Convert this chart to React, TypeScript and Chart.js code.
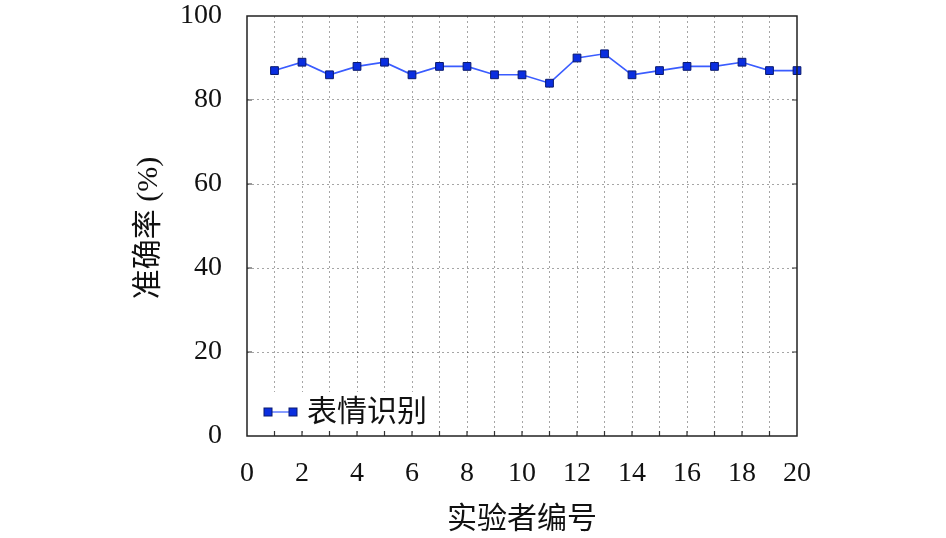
import { useEffect, useRef } from "react";
import { Chart, registerables, Plugin } from "chart.js";

Chart.register(...registerables);

const subjects = [1, 2, 3, 4, 5, 6, 7, 8, 9, 10, 11, 12, 13, 14, 15, 16, 17, 18, 19, 20];
const accuracy = [87, 89, 86, 88, 89, 86, 88, 88, 86, 86, 84, 90, 91, 86, 87, 88, 88, 89, 87, 87];
const seriesName = "表情识别";
const xTitle = "实验者编号";
const yTitle = "准确率 (%)";

const LATIN = "'Liberation Serif', 'Times New Roman', serif";
const CJK = "'Liberation Serif', 'Noto Sans CJK SC', serif";
const LINE_COLOR = "#3a5cff";
const MARK_FILL = "#0a2ee0";
const MARK_EDGE = "#0a1a6e";

// frame, inward ticks, legend box and axis titles
const decorPlugin: Plugin = {
    id: "decor",
    afterDatasetsDraw(chart) {
        const { ctx, chartArea: a, scales } = chart;
        const xs = scales.x;
        const ys = scales.y;
        ctx.save();

        // legend with white box
        ctx.fillStyle = "#fff";
        ctx.fillRect(a.left + 1, 392, 188, 38);
        ctx.strokeStyle = LINE_COLOR;
        ctx.lineWidth = 1.2;
        ctx.beginPath();
        ctx.moveTo(268, 412);
        ctx.lineTo(293, 412);
        ctx.stroke();
        for (const mx of [268, 293]) {
            ctx.fillStyle = MARK_FILL;
            ctx.strokeStyle = MARK_EDGE;
            ctx.lineWidth = 1;
            ctx.fillRect(mx - 4, 408, 8, 8);
            ctx.strokeRect(mx - 4, 408, 8, 8);
        }
        ctx.fillStyle = "#111";
        ctx.font = `30px ${CJK}`;
        ctx.textAlign = "left";
        ctx.textBaseline = "middle";
        ctx.fillText(seriesName, 307, 413);

        // inward ticks
        ctx.strokeStyle = "#333";
        ctx.lineWidth = 1.2;
        ctx.beginPath();
        for (let v = 1; v < 20; v++) {
            const px = xs.getPixelForValue(v);
            ctx.moveTo(px, a.bottom);
            ctx.lineTo(px, a.bottom - 5);
        }
        for (let v = 20; v < 100; v += 20) {
            const py = ys.getPixelForValue(v);
            ctx.moveTo(a.left, py);
            ctx.lineTo(a.left + 5, py);
            ctx.moveTo(a.right, py);
            ctx.lineTo(a.right - 5, py);
        }
        ctx.stroke();

        // frame
        ctx.strokeStyle = "#222";
        ctx.lineWidth = 1.5;
        ctx.strokeRect(a.left, a.top, a.right - a.left, a.bottom - a.top);

        // axis titles
        ctx.fillStyle = "#111";
        ctx.font = `30px ${CJK}`;
        ctx.textAlign = "center";
        ctx.textBaseline = "middle";
        ctx.fillText(xTitle, (a.left + a.right) / 2, 520);
        ctx.translate(149, (a.top + a.bottom) / 2 + 2);
        ctx.rotate(-Math.PI / 2);
        ctx.fillText(yTitle, 0, 0);
        ctx.restore();
    },
};

export default function App() {
    const canvasRef = useRef<HTMLCanvasElement>(null);

    useEffect(() => {
        if (!canvasRef.current) return;
        const chart = new Chart(canvasRef.current, {
            type: "line",
            data: {
                datasets: [
                    {
                        label: seriesName,
                        data: subjects.map((s, i) => ({ x: s, y: accuracy[i] })),
                        borderColor: LINE_COLOR,
                        borderWidth: 1.6,
                        pointStyle: "rect",
                        pointRadius: 5.5,
                        pointBackgroundColor: MARK_FILL,
                        pointBorderColor: MARK_EDGE,
                        pointBorderWidth: 1,
                        tension: 0,
                        clip: false,
                    },
                ],
            },
            options: {
                animation: false,
                responsive: true,
                maintainAspectRatio: false,
                layout: { padding: { top: 16, right: 149, left: 0, bottom: 0 } },
                plugins: {
                    legend: { display: false },
                    tooltip: { enabled: false },
                },
                scales: {
                    x: {
                        type: "linear",
                        min: 0,
                        max: 20,
                        afterFit: (s: any) => {
                            s.height = 102;
                        },
                        border: { display: false, dash: [2, 3] },
                        grid: {
                            color: (c: any) =>
                                c.tick && (c.tick.value === 0 || c.tick.value === 20)
                                    ? "rgba(0,0,0,0)"
                                    : "rgba(0,0,0,0.35)",
                            lineWidth: 1,
                            drawTicks: false,
                        },
                        ticks: {
                            stepSize: 1,
                            autoSkip: false,
                            maxRotation: 0,
                            padding: 21,
                            color: "#111",
                            font: { family: LATIN, size: 28 },
                            callback: (v: any) => (Number(v) % 2 === 0 ? String(v) : ""),
                        },
                    },
                    y: {
                        min: 0,
                        max: 100,
                        afterFit: (s: any) => {
                            s.width = 247;
                            s.paddingTop = 0;
                            s.paddingBottom = 0;
                        },
                        border: { display: false, dash: [2, 3] },
                        grid: {
                            color: (c: any) =>
                                c.tick && (c.tick.value === 0 || c.tick.value === 100)
                                    ? "rgba(0,0,0,0)"
                                    : "rgba(0,0,0,0.35)",
                            lineWidth: 1,
                            drawTicks: false,
                        },
                        ticks: {
                            stepSize: 20,
                            padding: 25,
                            color: "#111",
                            font: { family: LATIN, size: 28 },
                        },
                    },
                },
            },
            plugins: [decorPlugin],
        });

        return () => {
            chart.destroy();
        };
    }, []);

    return (
        <div style={{ position: "absolute", left: 0, top: 0, width: 946, height: 538, background: "#fff" }}>
            <canvas ref={canvasRef} />
        </div>
    );
}
